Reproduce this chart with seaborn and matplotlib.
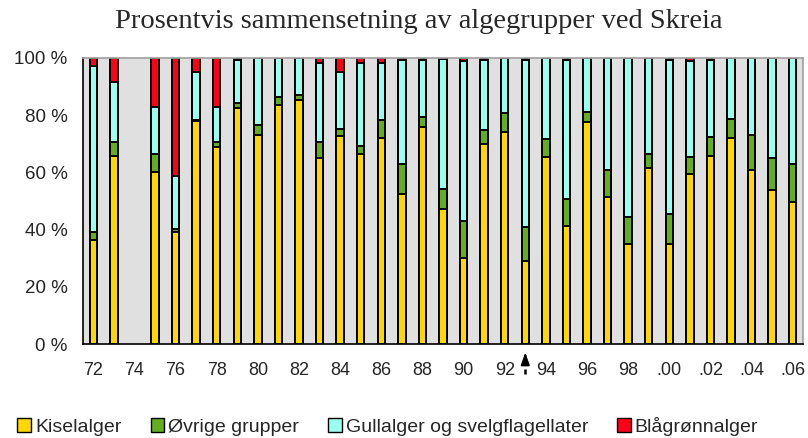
import matplotlib

matplotlib.use("Agg")
import matplotlib.pyplot as plt
import numpy as np
import pandas as pd
import seaborn as sns
from matplotlib.patches import Patch
from matplotlib.transforms import blended_transform_factory

# years 1972-2006, 1974 has no sample
years = list(range(1972, 2007))
kiselalger = [36.2, 65.8, None, 60.1, 39.1, 77.8, 69.0, 82.4, 73.0, 83.4,
              85.3, 64.9, 72.9, 66.5, 71.9, 52.5, 76.0, 47.3, 30.1, 70.0,
              74.2, 29.1, 65.5, 41.3, 77.7, 51.3, 35.0, 61.4, 35.0, 59.5,
              65.8, 71.9, 60.7, 53.7, 49.5]
ovrige = [2.9, 4.8, None, 6.4, 1.0, 0.5, 1.7, 1.7, 3.5, 3.1,
          1.9, 5.7, 2.2, 2.8, 6.4, 10.5, 3.5, 7.0, 13.0, 4.8,
          6.5, 11.7, 6.3, 9.5, 3.5, 9.5, 9.3, 5.1, 10.5, 6.0,
          6.7, 6.9, 12.3, 11.2, 13.5]
gullalger = [58.0, 21.1, None, 16.5, 18.7, 16.9, 12.3, 15.3, 23.5, 13.5,
             12.8, 27.5, 20.1, 28.8, 19.8, 36.3, 19.8, 45.2, 55.7, 24.5,
             19.3, 58.6, 28.2, 48.5, 18.8, 39.2, 55.7, 33.5, 53.9, 33.3,
             26.8, 21.2, 27.0, 35.1, 37.0]
blagronn = [2.9, 8.3, None, 17.0, 41.2, 4.8, 17.0, 0.6, 0.0, 0.0,
            0.0, 1.9, 4.8, 1.9, 1.9, 0.7, 0.7, 0.5, 1.2, 0.7,
            0.0, 0.6, 0.0, 0.7, 0.0, 0.0, 0.0, 0.0, 0.6, 1.2,
            0.7, 0.0, 0.0, 0.0, 0.0]

groups = ["Kiselalger", "Øvrige grupper", "Gullalger og svelgflagellater", "Blågrønnalger"]
colors = ["#FFD700", "#63AD1F", "#99FFEE", "#FF0018"]

df = pd.DataFrame({
    "year": [str(y) for y in years],
    "Kiselalger": kiselalger,
    "Øvrige grupper": ovrige,
    "Gullalger og svelgflagellater": gullalger,
    "Blågrønnalger": blagronn,
}).set_index("year").astype(float)
cum = df[groups].cumsum(axis=1)
order = [str(y) for y in years]

sns.set_style("white")
plt.rcParams["font.family"] = ["Liberation Sans", "DejaVu Sans"]

fig = plt.figure(figsize=(8.08, 4.38), dpi=100)
ax = fig.add_axes([0.1027, 0.2146, 0.8911, 0.653])
ax.set_facecolor("#E0E0E0")

# overlay cumulative bars, tallest first
for grp, col in zip(groups[::-1], colors[::-1]):
    d = cum[grp].dropna().reset_index()
    sns.barplot(data=d, x="year", y=grp, order=order, color=col, width=0.36,
                edgecolor="black", linewidth=1.4, saturation=1, errorbar=None, ax=ax)

ax.set_xlim(-0.5, len(years) - 0.5)
ax.set_ylim(0, 100)
ax.set_xlabel("")
ax.set_ylabel("")

ax.set_xticks(np.arange(-0.5, len(years), 1))
ax.set_xticklabels([])
ax.tick_params(axis="x", which="major", length=5, width=1, color="black", direction="out")
lab_idx = [i for i, y in enumerate(years) if y % 2 == 0]
lab_txt = [f"{y % 100:02d}" if y < 2000 else f".{y % 100:02d}" for y in years if y % 2 == 0]
ax.set_xticks(lab_idx, minor=True)
ax.set_xticklabels(lab_txt, minor=True, fontsize=13)
ax.tick_params(axis="x", which="minor", length=0, pad=13)

ax.set_yticks(range(0, 101, 20))
ax.set_yticklabels([f"{v} %" for v in range(0, 101, 20)], fontsize=13.5)
ax.tick_params(axis="y", length=5, width=1, color="black", direction="out", pad=6)

for s in ["left", "bottom"]:
    ax.spines[s].set_color("black")
    ax.spines[s].set_linewidth(1.2)
for s in ["top", "right"]:
    ax.spines[s].set_color("#A0A0A0")
    ax.spines[s].set_linewidth(1.2)

# arrow under 1993
x93 = years.index(1993)
tr = blended_transform_factory(ax.transData, ax.transAxes)
ax.plot([x93, x93], [-0.105, -0.045], transform=tr, color="black", lw=1.8,
        linestyle=(0, (2, 1.5)), clip_on=False)
ax.annotate("", xy=(x93, -0.02), xycoords=tr, xytext=(x93, -0.06), textcoords=tr,
            arrowprops=dict(arrowstyle="-|>,head_width=0.25,head_length=0.7",
                            color="black", lw=1.5))

fig.text(0.518, 0.95, "Prosentvis sammensetning av algegrupper ved Skreia",
         ha="center", va="center", fontsize=20.5, family="Liberation Serif")

handles = [Patch(facecolor=c, edgecolor="black", linewidth=1) for c in colors]
fig.legend(handles, groups, loc="lower center", bbox_to_anchor=(0.48, -0.035), ncol=4,
           frameon=False, fontsize=14, handlelength=0.7, handleheight=0.7,
           handletextpad=0.2, columnspacing=1.5)

fig.savefig("out.png", dpi=100)
